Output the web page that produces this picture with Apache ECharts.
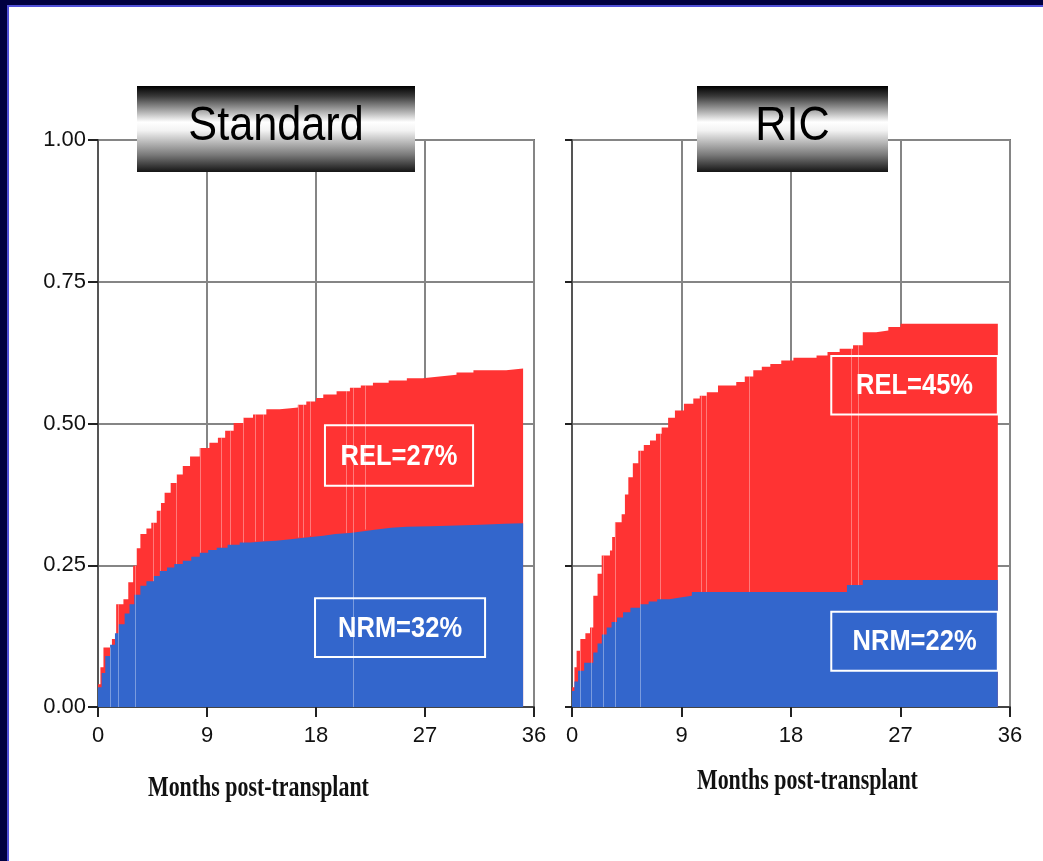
<!DOCTYPE html>
<html>
<head>
<meta charset="utf-8">
<script src="https://cdn.jsdelivr.net/npm/echarts@6/dist/echarts.min.js"></script>
<style>
  html, body { margin: 0; padding: 0; background: #ffffff; }
  #chart { width: 1043px; height: 861px; }
</style>
</head>
<body>
<div id="chart"></div>
<script>
// Cumulative incidence after transplant, [month, probability] step points.
// Non-relapse mortality (bottom band) and NRM + relapse (top of the red band).
const nrmStandard = [
  [0, 0.035], [0.3, 0.06], [0.6, 0.09], [1.0, 0.11], [1.4, 0.13], [1.7, 0.146],
  [2.2, 0.165], [2.6, 0.181], [3.0, 0.198], [3.5, 0.214], [4.0, 0.222], [4.6, 0.231],
  [5.1, 0.24], [5.7, 0.246], [6.3, 0.252], [7.0, 0.258], [7.7, 0.265], [8.4, 0.272],
  [9.1, 0.277], [9.8, 0.281], [10.7, 0.286], [11.7, 0.29], [12.6, 0.292], [13.6, 0.293],
  [14.7, 0.296], [15.9, 0.299], [17.2, 0.302], [18.6, 0.305], [19.6, 0.307], [20.8, 0.31],
  [21.9, 0.313], [23.0, 0.316], [24.2, 0.318], [25.5, 0.319], [27.5, 0.32], [29.6, 0.321],
  [31.0, 0.322], [32.1, 0.323], [33.6, 0.324], [35.1, 0.324]
];
const totalStandard = [
  [0, 0.04], [0.2, 0.07], [0.45, 0.105], [1.15, 0.12], [1.5, 0.181], [2.1, 0.19],
  [2.5, 0.22], [2.9, 0.249], [3.2, 0.28], [3.5, 0.305], [4.0, 0.315], [4.4, 0.325],
  [4.85, 0.346], [5.2, 0.36], [5.5, 0.378], [6.0, 0.395], [6.5, 0.41], [7.0, 0.425],
  [7.6, 0.442], [8.4, 0.457], [9.2, 0.466], [9.9, 0.475], [10.5, 0.487], [11.2, 0.501],
  [12.0, 0.51], [12.8, 0.516], [13.9, 0.525], [15.0, 0.527], [15.9, 0.528], [16.5, 0.533],
  [17.2, 0.539], [18.0, 0.545], [18.6, 0.551], [19.7, 0.557], [20.8, 0.563], [21.7, 0.567],
  [22.7, 0.572], [24.0, 0.576], [25.5, 0.58], [26.8, 0.583], [28.2, 0.586], [29.6, 0.59],
  [31.0, 0.594], [33.7, 0.597], [35.1, 0.597]
];
const nrmRIC = [
  [0, 0.028], [0.2, 0.045], [0.5, 0.064], [1.0, 0.078], [1.75, 0.096], [2.1, 0.112],
  [2.45, 0.128], [2.85, 0.14], [3.25, 0.15], [3.7, 0.158], [4.2, 0.167], [4.8, 0.175],
  [5.6, 0.181], [6.3, 0.186], [7.0, 0.19], [8.0, 0.193], [8.9, 0.196], [9.85, 0.203],
  [22.6, 0.215], [23.9, 0.224], [35.0, 0.224]
];
const totalRIC = [
  [0, 0.035], [0.2, 0.07], [0.38, 0.099], [0.66, 0.12], [1.1, 0.13], [1.48, 0.14],
  [1.75, 0.196], [2.1, 0.235], [2.44, 0.267], [3.12, 0.276], [3.3, 0.3], [3.53, 0.326],
  [4.08, 0.34], [4.35, 0.375], [4.63, 0.405], [5.0, 0.43], [5.45, 0.452], [5.9, 0.462],
  [6.41, 0.47], [6.9, 0.482], [7.37, 0.493], [7.9, 0.51], [8.46, 0.523], [9.2, 0.535],
  [9.97, 0.544], [10.5, 0.549], [11.07, 0.555], [12.0, 0.567], [13.5, 0.573], [14.2, 0.583],
  [14.9, 0.594], [15.6, 0.6], [16.3, 0.605], [17.2, 0.611], [18.2, 0.616], [20.1, 0.62],
  [21.0, 0.626], [22.0, 0.632], [23.1, 0.638], [23.9, 0.661], [25.0, 0.664], [26.0, 0.67],
  [27.0, 0.676], [35.0, 0.676]
];

// Censoring times (months): through both bands, or on the relapse band only.
const censorStandardAll = [0.99, 1.68, 3.06, 21.1];
const censorStandardRel = [4.57, 5.12, 6.5, 8.42, 10.2, 10.9, 12.0, 12.96, 13.65, 16.5, 16.95, 17.5, 20.5, 22.05];
const censorRICAll = [0.66, 1.62, 2.57, 3.53, 5.59];
const censorRICRel = [7.23, 10.66, 11.07, 14.6, 22.98, 23.5];

const panelTitles = ['Standard', 'RIC'];
const xAxisTitle = 'Months post-transplant';
const monthTicks = [0, 9, 18, 27, 36];
const probTicks = [0, 0.25, 0.5, 0.75, 1];

const RED = '#ff3333';
const BLUE = '#3366cc';
const SANS = "'Liberation Sans', Arial, Helvetica, sans-serif";
const SERIF = "'Liberation Serif', 'Times New Roman', serif";

// Annotation boxes in data coordinates: [[month0, prob0], [month1, prob1]].
const boxLayout = [
  { rel: [[18.74, 0.497], [30.97, 0.39]], nrm: [[17.92, 0.192], [31.96, 0.088]] },
  { rel: [[21.31, 0.619], [35.0, 0.516]], nrm: [[21.31, 0.168], [35.0, 0.064]] }
];

function stepAt(data, t) {
  let v = 0;
  for (const [x, y] of data) { if (x <= t) v = y; else break; }
  return v;
}
function pct(v) { return Math.round(v * 100) + '%'; }

const panels = [
  { nrm: nrmStandard, total: totalStandard, all: censorStandardAll, rel: censorStandardRel },
  { nrm: nrmRIC, total: totalRIC, all: censorRICAll, rel: censorRICRel }
];

const series = [];
panels.forEach((p, i) => {
  series.push({
    type: 'line', xAxisIndex: i, yAxisIndex: i, data: p.total, step: 'end',
    symbol: 'none', silent: true, z: 2,
    lineStyle: { width: 0 }, areaStyle: { color: RED, opacity: 1 }
  });
  series.push({
    type: 'line', xAxisIndex: i, yAxisIndex: i, data: p.nrm, step: 'end',
    symbol: 'none', silent: true, z: 3,
    lineStyle: { width: 0 }, areaStyle: { color: BLUE, opacity: 1 }
  });
  const censorLines = [];
  p.all.forEach(t => censorLines.push([{ coord: [t, 0] }, { coord: [t, stepAt(p.total, t)] }]));
  p.rel.forEach(t => censorLines.push([{ coord: [t, stepAt(p.nrm, t)] }, { coord: [t, stepAt(p.total, t)] }]));
  series.push({
    type: 'line', xAxisIndex: i, yAxisIndex: i, data: [], silent: true, z: 5,
    markLine: {
      silent: true, symbol: ['none', 'none'], animation: false,
      label: { show: false },
      lineStyle: { color: 'rgba(255,255,255,0.35)', width: 1, type: 'solid' },
      emphasis: { disabled: true },
      data: censorLines
    }
  });
});

const gridLine = { show: true, lineStyle: { color: '#858585', width: 2 } };
function xAxisFor(i) {
  return {
    type: 'value', gridIndex: i, min: monthTicks[0], max: monthTicks[monthTicks.length - 1],
    interval: monthTicks[1] - monthTicks[0],
    axisLine: { show: true, lineStyle: { color: '#444', width: 2 } },
    axisTick: { show: true, inside: false, length: 10, lineStyle: { color: '#222', width: 2 } },
    axisLabel: { show: true, margin: 18, fontFamily: SANS, fontSize: 22, color: '#111' },
    splitLine: gridLine
  };
}
function yAxisFor(i) {
  return {
    type: 'value', gridIndex: i, min: probTicks[0], max: probTicks[probTicks.length - 1],
    interval: probTicks[1] - probTicks[0],
    axisLine: { show: true, lineStyle: { color: '#555', width: 2 } },
    axisTick: { show: true, inside: false, length: i === 0 ? 10 : 7, lineStyle: { color: '#222', width: 2 } },
    axisLabel: {
      show: i === 0, margin: 12, fontFamily: SANS, fontSize: 22, color: '#111',
      formatter: v => v.toFixed(2)
    },
    splitLine: gridLine
  };
}

function titleBox(x, w, text) {
  return {
    type: 'group',
    children: [
      {
        type: 'rect', z: 20, shape: { x: x, y: 86, width: w, height: 86 },
        style: {
          fill: new echarts.graphic.LinearGradient(0, 0, 0, 1, [
            { offset: 0, color: '#000000' },
            { offset: 0.12, color: '#3a3a3a' },
            { offset: 0.42, color: '#ffffff' },
            { offset: 0.52, color: '#f2f2f2' },
            { offset: 0.8, color: '#7a7a7a' },
            { offset: 1, color: '#151515' }
          ])
        }
      },
      {
        type: 'text', z: 21, x: x + w / 2, y: 127, scaleX: 0.9,
        style: {
          text: text, x: 0, y: 0, fill: '#000000', fontFamily: SANS, fontSize: 48,
          align: 'center', verticalAlign: 'middle'
        }
      }
    ]
  };
}
function axisTitle(x, y) {
  return {
    type: 'text', x: x, y: y, scaleX: 0.73, z: 20,
    style: {
      text: xAxisTitle, x: 0, y: 0, fill: '#111', fontFamily: SERIF, fontSize: 30,
      fontWeight: 'bold', align: 'left', verticalAlign: 'middle'
    }
  };
}

const chart = echarts.init(document.getElementById('chart'), null, { renderer: 'canvas' });
chart.setOption({
  animation: false,
  backgroundColor: '#ffffff',
  grid: [
    { left: 98, top: 140, width: 436, height: 567, show: true, borderColor: '#707070', borderWidth: 2, backgroundColor: 'transparent' },
    { left: 572, top: 140, width: 438, height: 567, show: true, borderColor: '#707070', borderWidth: 2, backgroundColor: 'transparent' }
  ],
  xAxis: [xAxisFor(0), xAxisFor(1)],
  yAxis: [yAxisFor(0), yAxisFor(1)],
  series: series
});

// Outlined estimate boxes, placed through each panel's own scales.
function estimateBox(i, corners, text) {
  const a = chart.convertToPixel({ gridIndex: i }, corners[0]);
  const b = chart.convertToPixel({ gridIndex: i }, corners[1]);
  const x0 = Math.min(a[0], b[0]), y0 = Math.min(a[1], b[1]);
  const w = Math.abs(b[0] - a[0]), h = Math.abs(b[1] - a[1]);
  return {
    type: 'group',
    children: [
      { type: 'rect', z: 15, shape: { x: x0, y: y0, width: w, height: h },
        style: { fill: 'none', stroke: '#ffffff', lineWidth: 2 } },
      { type: 'text', z: 16, x: x0 + w / 2, y: y0 + h / 2 + 1, scaleX: 0.85,
        style: { text: text, x: 0, y: 0, fill: '#ffffff', fontFamily: SANS, fontSize: 30,
                 fontWeight: 'bold', align: 'center', verticalAlign: 'middle' } }
    ]
  };
}

const graphics = [
  // frame along the top and left edges
  { type: 'rect', z: 30, shape: { x: 0, y: 0, width: 1043, height: 5 }, style: { fill: '#000040' } },
  { type: 'rect', z: 30, shape: { x: 0, y: 0, width: 7, height: 861 }, style: { fill: '#000040' } },
  { type: 'rect', z: 29, shape: { x: 7, y: 5, width: 1036, height: 2 }, style: { fill: '#5050d8' } },
  { type: 'rect', z: 29, shape: { x: 7, y: 5, width: 2, height: 856 }, style: { fill: '#5050d8' } },
  titleBox(137, 278, panelTitles[0]),
  titleBox(697, 191, panelTitles[1]),
  axisTitle(148, 788),
  axisTitle(697, 781)
];
panels.forEach((p, i) => {
  const nrmEnd = p.nrm[p.nrm.length - 1][1];
  const totEnd = p.total[p.total.length - 1][1];
  graphics.push(estimateBox(i, boxLayout[i].rel, 'REL=' + pct(totEnd - nrmEnd)));
  graphics.push(estimateBox(i, boxLayout[i].nrm, 'NRM=' + pct(nrmEnd)));
});
chart.setOption({ graphic: graphics });
</script>
</body>
</html>
